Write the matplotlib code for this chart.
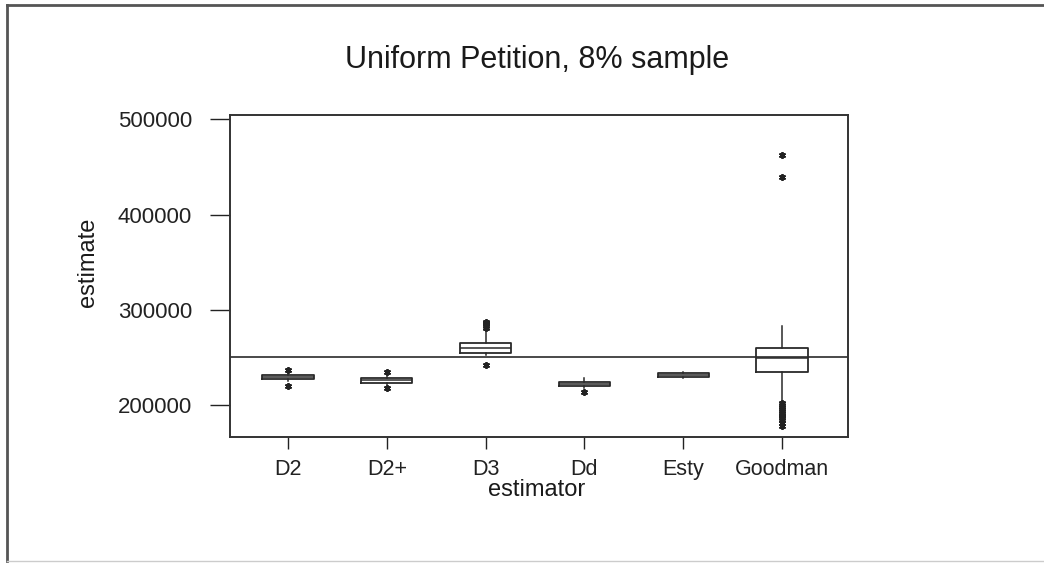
import matplotlib
matplotlib.use("Agg")
import matplotlib.pyplot as plt
from matplotlib.lines import Line2D

plt.rcParams['font.family'] = ['Liberation Sans', 'DejaVu Sans']

# data
estimators = ["D2", "D2+", "D3", "Dd", "Esty", "Goodman"]
q1 = [227300, 223500, 254300, 220300, 229800, 235000]
median = [229500, 225800, 260200, 222400, 231500, 249800]
q3 = [231500, 228100, 264800, 224500, 233300, 260200]
whisker_low = [225500, 221500, 252500, 218000, 228000, 203500]
whisker_high = [233500, 230500, 278800, 228700, 234500, 283000]
outliers = [
    [236800, 220500],
    [234700, 218000],
    [281000, 283000, 285000, 286000, 287000, 242000],
    [214000],
    [],
    [463000, 440000, 202000, 200000, 198000, 196000, 194000, 192000,
     190000, 188000, 186000, 184000, 181000, 178000],
]
true_value = 250000
yticks = [200000, 300000, 400000, 500000]

stats = []
for i, name in enumerate(estimators):
    stats.append({
        "label": name,
        "q1": q1[i], "med": median[i], "q3": q3[i],
        "whislo": whisker_low[i], "whishi": whisker_high[i],
        "fliers": outliers[i],
    })

fig = plt.figure(figsize=(10.44, 5.63), dpi=100)
ax = fig.add_axes([0.2203, 0.2238, 0.592, 0.572])

line_col = "#2a2a2a"
ax.bxp(stats, positions=range(1, len(estimators) + 1), widths=0.52,
       showcaps=False,
       boxprops=dict(color=line_col, linewidth=1.3),
       medianprops=dict(color=line_col, linewidth=1.1),
       whiskerprops=dict(color=line_col, linewidth=1.1),
       flierprops=dict(marker=(6, 2, 0), markersize=5, markeredgecolor="#222222",
                       markeredgewidth=1.3, linestyle="none"))

ax.axhline(true_value, color=line_col, linewidth=1.2)

ax.set_xlim(0.413, 6.668)
ax.set_ylim(166400, 504700)
ax.set_yticks(yticks)
ax.set_yticklabels([str(v) for v in yticks])
ax.set_xticks(range(1, len(estimators) + 1))
ax.set_xticklabels(estimators)

ax.tick_params(axis="y", length=14.4, width=1.0, pad=13, labelsize=16, colors="#222222")
ax.tick_params(axis="x", length=8.6, width=1.0, pad=7, labelsize=15.5, colors="#222222")
for s in ax.spines.values():
    s.set_linewidth(1.4)
    s.set_color("#333333")

fig.text(0.5144, 0.893, "Uniform Petition, 8% sample", ha="center", va="center",
         fontsize=22, color="#1a1a1a")
fig.text(88 / 1044, 1 - 262 / 563, "estimate", ha="center", va="center",
         rotation=90, fontsize=17, color="#1a1a1a")
fig.text(537 / 1044, 1 - 490 / 563, "estimator", ha="center", va="center",
         fontsize=17, color="#1a1a1a")

# outer frame of the original page
fig.add_artist(Line2D([7 / 1044, 7 / 1044], [1 - 5 / 563, 1 - 561 / 563],
                      transform=fig.transFigure, color="#555555", linewidth=2))
fig.add_artist(Line2D([7 / 1044, 1.0], [1 - 5 / 563, 1 - 5 / 563],
                      transform=fig.transFigure, color="#555555", linewidth=2))
fig.add_artist(Line2D([7 / 1044, 1.0], [1 - 561 / 563, 1 - 561 / 563],
                      transform=fig.transFigure, color="#cccccc", linewidth=1))

fig.savefig("out.png", dpi=100)
